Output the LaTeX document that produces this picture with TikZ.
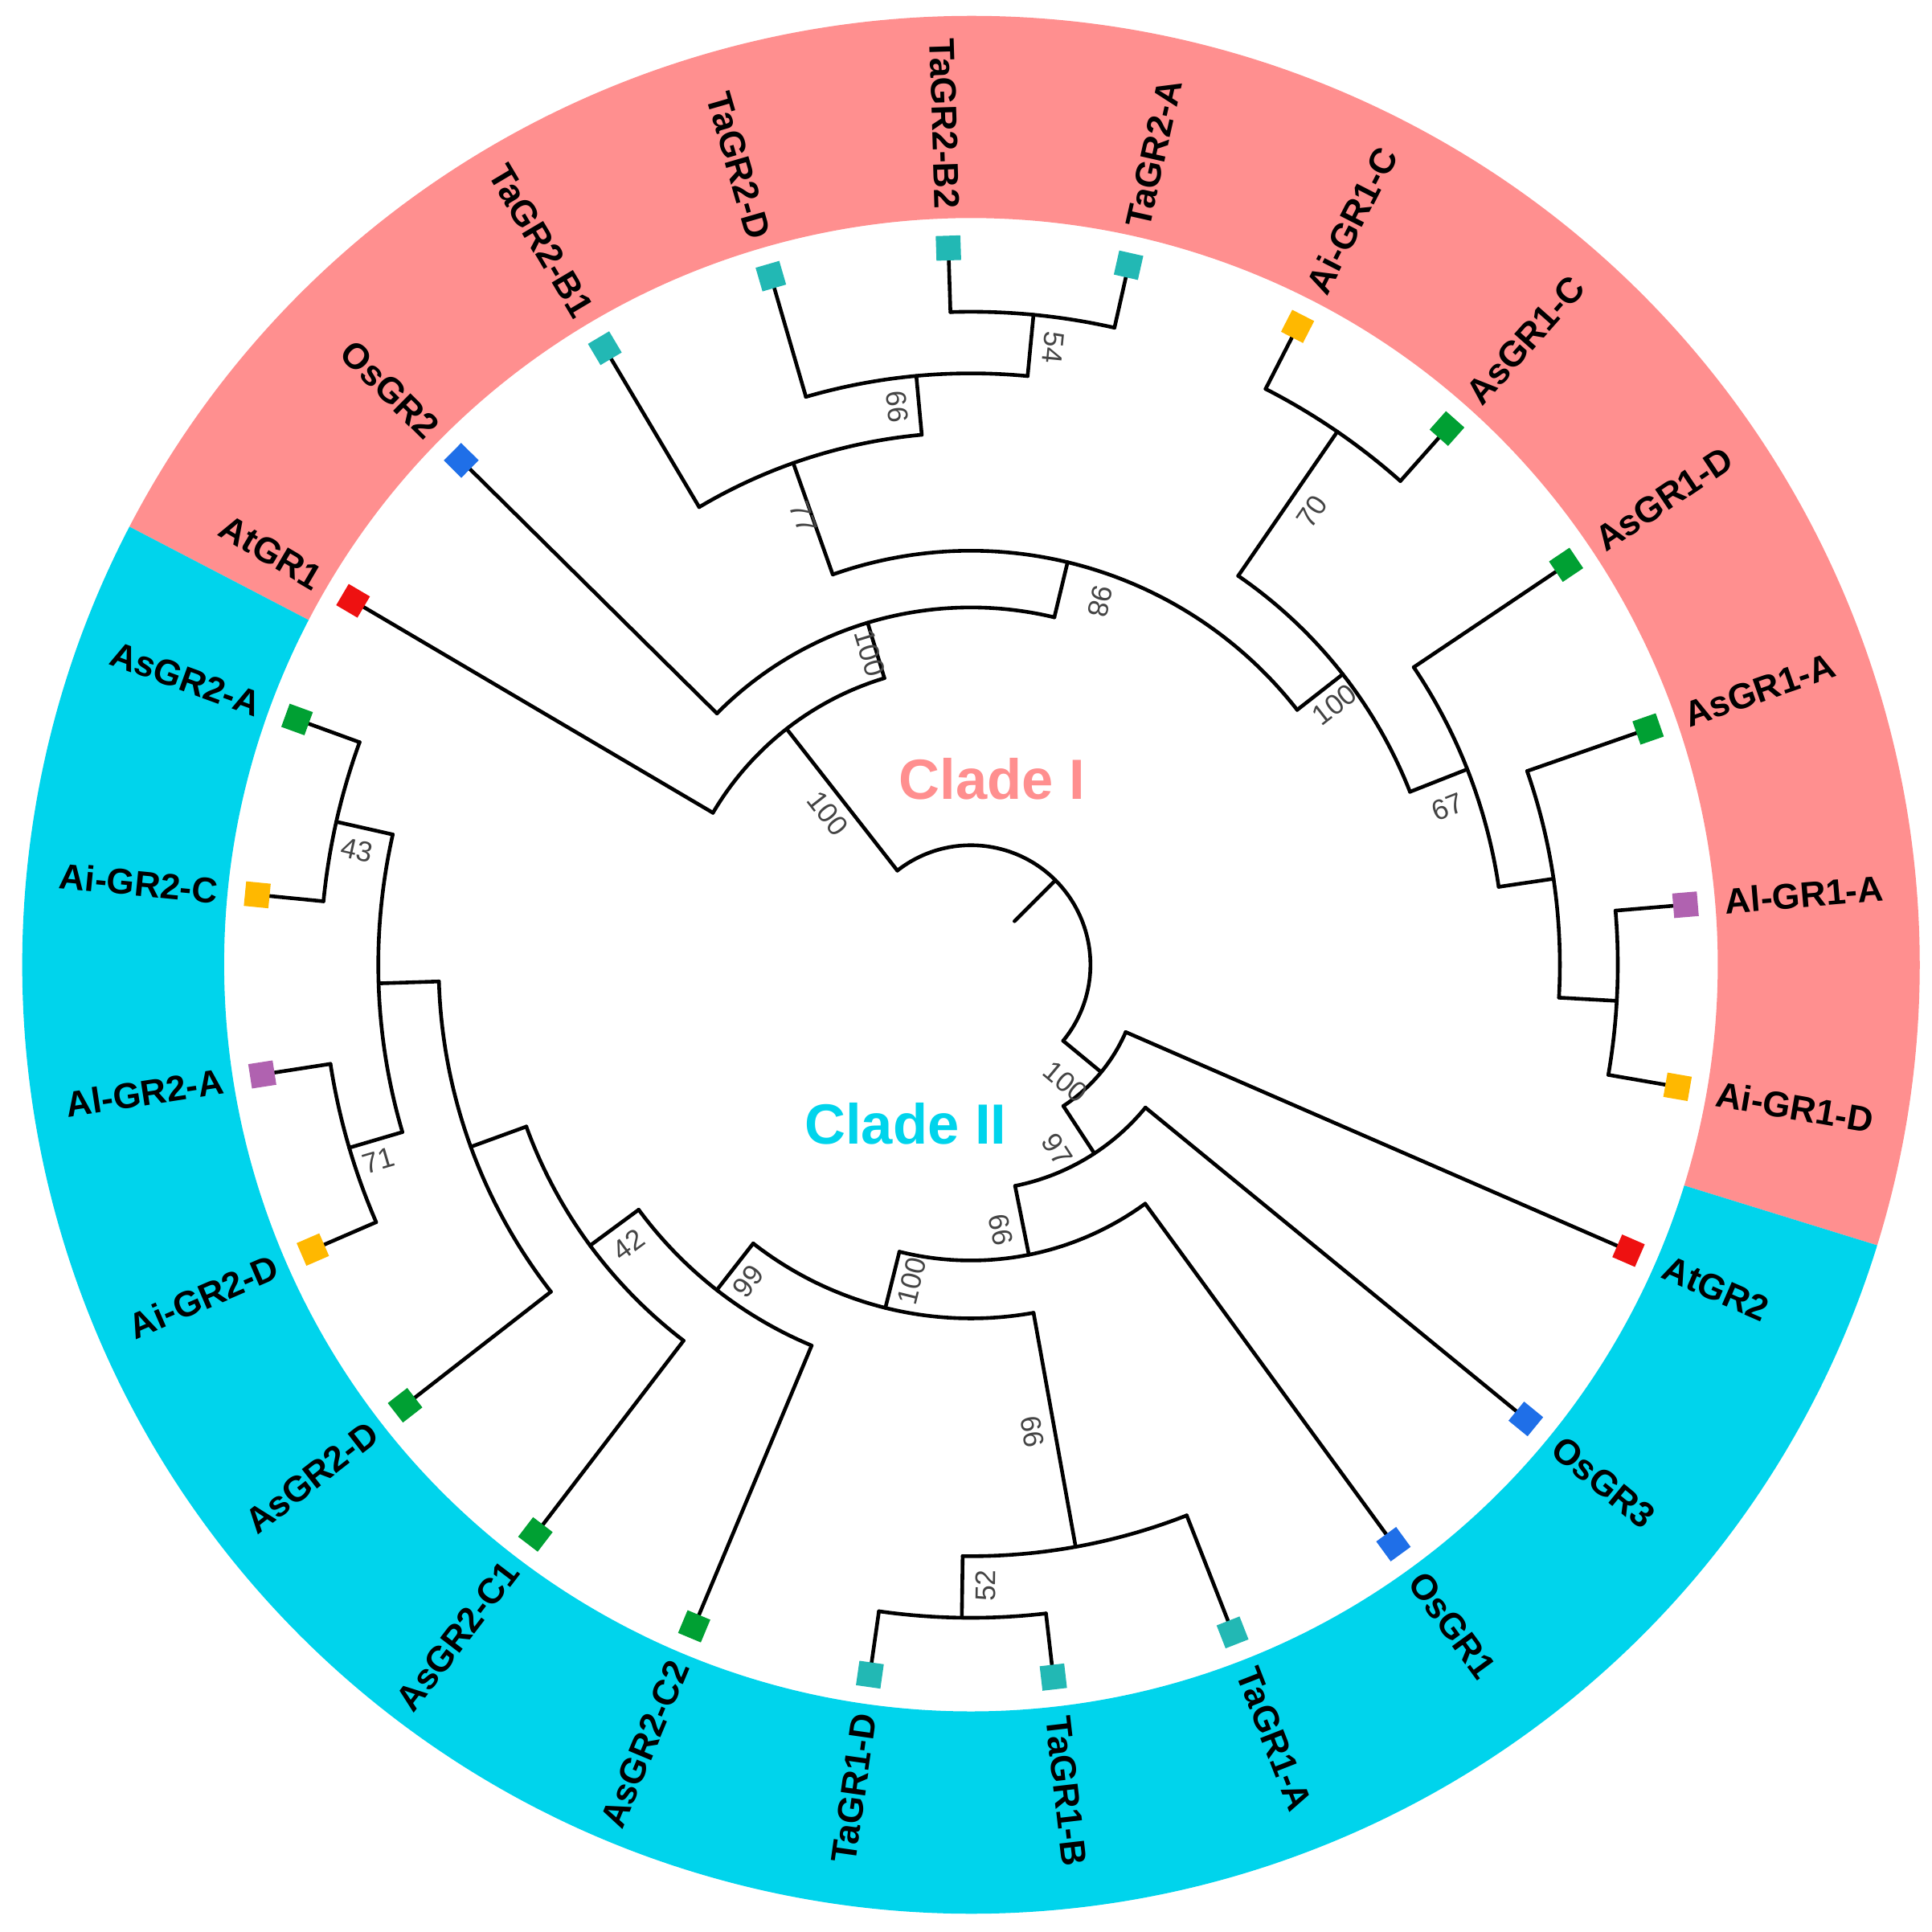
\documentclass[tikz,border=0pt]{standalone}
\usepackage{fontspec}
\setmainfont{Liberation Sans}
\begin{document}
\definecolor{pinkr}{HTML}{FF8F8F}
\definecolor{cyanr}{HTML}{00D4EC}
\definecolor{cteal}{HTML}{22B8B4}
\definecolor{cblue}{HTML}{1F6FE8}
\definecolor{cred}{HTML}{EE1111}
\definecolor{cgreen}{HTML}{00A033}
\definecolor{corange}{HTML}{FFB800}
\definecolor{cpurple}{HTML}{B062B0}
\definecolor{bsgray}{HTML}{444444}
\begin{tikzpicture}[x=1pt,y=1pt,
  br/.style={line width=3pt,black,line cap=round,line join=round},
  leaf/.style={draw=none,minimum size=20pt,inner sep=0pt},
  lab/.style={font=\fontsize{29}{30}\selectfont\bfseries,inner sep=0pt},
  bs/.style={font=\fontsize{23}{24}\selectfont,text=bsgray,inner sep=1pt},
  clade/.style={font=\fontsize{46}{48}\selectfont\bfseries}]
\useasboundingbox (-788,-785) rectangle (780,783);
% ring
\fill[pinkr] (-17.2:606) arc[start angle=-17.2,end angle=152.5,radius=606pt] -- (152.5:770) arc[start angle=152.5,end angle=-17.2,radius=770pt] -- cycle;
\fill[cyanr] (152.5:606) arc[start angle=152.5,end angle=342.8,radius=606pt] -- (342.8:770) arc[start angle=342.8,end angle=152.5,radius=770pt] -- cycle;
% internal branches: radial angle, r0, r1, arc a1, a2
\newcommand\clade[5]{\draw[br] (#1:#2) -- (#1:#3); \draw[br] (#4:#3) arc[start angle=#4,end angle=#5,radius=#3 pt];}
\draw[br] (45:50) -- (45:97);
\draw[br] (128:97) arc[start angle=128,end angle=-39.5,radius=97pt];
% clade I
\clade{128}{97}{243}{149.5}{106.8}
\clade{106.8}{243}{290}{135.3}{76.5}
\clade{76.5}{290}{336}{109.5}{38}
\clade{109.5}{336}{432}{120.7}{95.3}
\clade{95.3}{432}{480}{106.2}{84.5}
\clade{84.5}{480}{530}{91.8}{77.3}
\clade{38}{336}{383}{55.5}{21.5}
\clade{55.5}{383}{525}{62.9}{48.4}
\clade{21.5}{383}{433}{33.9}{8.4}
\clade{8.4}{433}{478}{19.2}{-3.2}
\clade{-3.2}{478}{525}{4.8}{-9.8}
% clade II
\clade{-39.5}{97}{137}{-23.5}{-56.8}
\clade{-56.8}{137}{183}{-39.3}{-78.7}
\clade{-78.7}{183}{240}{-53.9}{-104}
\clade{-104}{240}{287}{-79.8}{-128}
\clade{-79.8}{287}{480}{-90.8}{-68.6}
\clade{-90.8}{480}{530}{-98.1}{-83.4}
\clade{-128}{287}{335}{-112.7}{-143.6}
\clade{-143.6}{335}{384}{-127.4}{-160}
\clade{-160}{384}{432}{-142.1}{-178.2}
\clade{-178.2}{432}{481}{-163.6}{-192.7}
\clade{-163.6}{481}{526}{-156.6}{-171.2}
\clade{167.3}{481}{528}{160}{174.4}
% leaves: angle/name/colour/parent radius/label
\foreach \a/\n/\c/\r/\t in {
 149.5/l1/cred/243/AtGR1, 135.3/l2/cblue/290/OsGR2, 120.7/l3/cteal/432/TaGR2-B1,
 106.2/l4/cteal/480/TaGR2-D, 91.8/l5/cteal/530/TaGR2-B2, 77.3/l6/cteal/530/TaGR2-A,
 62.9/l7/corange/525/Ai-GR1-C, 48.4/l8/cgreen/525/AsGR1-C, 33.9/l9/cgreen/433/AsGR1-D,
 19.2/l10/cgreen/478/AsGR1-A, 4.8/l11/cpurple/525/Al-GR1-A, -9.8/l12/corange/525/Ai-GR1-D,
 -23.5/l13/cred/137/AtGR2, -39.3/l14/cblue/183/OsGR3, -53.9/l15/cblue/240/OsGR1,
 -68.6/l16/cteal/480/TaGR1-A, -83.4/l17/cteal/530/TaGR1-B, -98.1/l18/cteal/530/TaGR1-D,
 -112.7/l19/cgreen/335/AsGR2-C2, -127.4/l20/cgreen/384/AsGR2-C1, -142.1/l21/cgreen/432/AsGR2-D,
 -156.6/l22/corange/526/Ai-GR2-D, -171.2/l23/cpurple/526/Al-GR2-A, 174.4/l24/corange/528/Ai-GR2-C,
 160/l25/cgreen/528/AsGR2-A}{
  \coordinate (\n s) at (\a:\r);
  \coordinate (\n e) at (\a:582);
  \draw[br] (\n s) -- (\n e);
  \node[leaf,fill=\c,rotate=\a] (\n) at (\n e) {};
  \pgfmathparse{(\a>90 || \a<-90) ? 1 : 0}
  \ifnum\pgfmathresult=1
    \node[lab,anchor=east,rotate=\a+180] at (\a:614) {\t};
  \else
    \node[lab,anchor=west,rotate=\a] at (\a:614) {\t};
  \fi
}
% bootstrap values
\node[bs,rotate=-52] at (-116,123) {100};
\node[bs,rotate=-73] at (-82,253) {100};
\node[bs,rotate=-103.5] at (105,295) {98};
\node[bs,rotate=-70.5] at (-136,363) {77};
\node[bs,rotate=-84.7] at (-60,453) {66};
\node[bs,rotate=-95.5] at (67,501) {54};
\node[bs,rotate=38] at (295,211) {100};
\node[bs,rotate=55.5] at (277,368) {70};
\node[bs,rotate=21.5] at (387,128) {67};
\node[bs,rotate=-40] at (77,-95) {100};
\node[bs,rotate=-57] at (70,-150) {97};
\node[bs,rotate=-78.7] at (24,-215) {66};
\node[bs,rotate=76] at (-48,-257) {100};
\node[bs,rotate=52] at (-181,-257) {99};
\node[bs,rotate=-79.8] at (50,-379) {66};
\node[bs,rotate=89.2] at (12,-504) {52};
\node[bs,rotate=36.4] at (-278,-227) {42};
\node[bs,rotate=16.4] at (-481,-159) {71};
\node[bs,rotate=-12.7] at (-498,93) {43};
% clade labels
\node[clade,text=pinkr] (c1) at (17,151) {Clade I};
\node[clade,text=cyanr] (c2) at (-53,-129) {Clade II};
\end{tikzpicture}
\end{document}
